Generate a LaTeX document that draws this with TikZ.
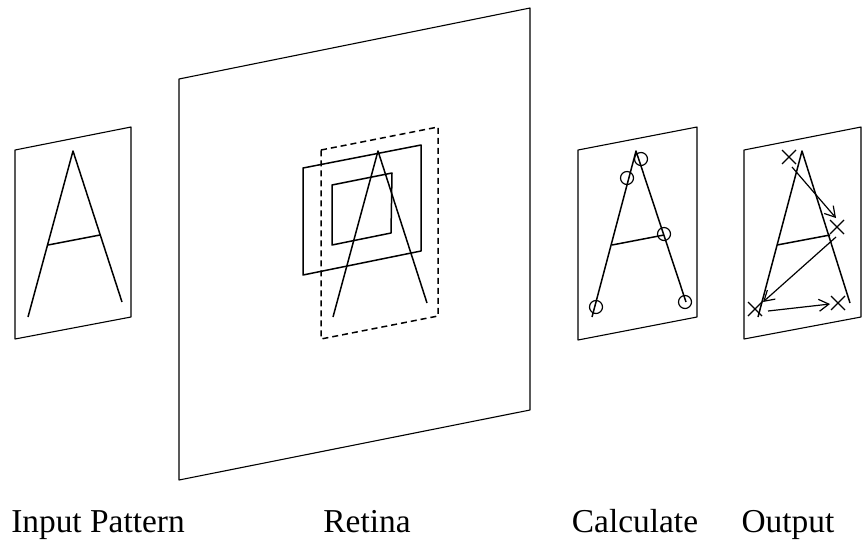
\documentclass[tikz,border=0pt]{standalone}
\usepackage{fontspec}
\setmainfont{Liberation Serif}
\usetikzlibrary{arrows.meta}

\begin{document}
\begin{tikzpicture}[x=0.5pt, y=-0.5pt, line join=round,
    every node/.style={font=\fontsize{16.7}{19}\selectfont, inner sep=0pt},
    panel/.style={draw=black, line width=0.55pt},
    letter/.style={draw=black, line width=0.75pt},
    ring/.style={draw=black, line width=0.6pt},
    mover/.style={draw=black, line width=0.6pt, -{Straight Barb[length=5pt, width=6pt]}}]
  \useasboundingbox (0,0) rectangle (866,548);

  % Input pattern
  \draw[panel] (15,150) -- (131,127) -- (131,317) -- (15,339) -- cycle;
  \draw[letter] (28,317) -- (73,151) -- (122,302);
  \draw[letter] (48,245) -- (100,235);

  % Retina
  \draw[panel] (179,79) -- (530,8) -- (530,410) -- (179,480) -- cycle;
  \draw[panel, dashed, dash pattern=on 3pt off 2pt, line width=0.75pt]
    (321,150) -- (438,127) -- (438,316) -- (321,339) -- cycle;
  \draw[panel, line width=0.75pt] (303,168) -- (421,145) -- (421,251) -- (303,275) -- cycle;
  \draw[panel, line width=0.75pt] (332,185) -- (392,173) -- (391,233) -- (332,245) -- cycle;
  \draw[letter] (333,317) -- (378,151) -- (427,303);

  % Calculate
  \draw[panel] (578,150) -- (697,127) -- (697,317) -- (578,340) -- cycle;
  \draw[letter] (592,317) -- (636,151) -- (686,302);
  \draw[letter] (612,245) -- (664,235);
  \foreach \cx/\cy in {641/159, 627/178, 664/234, 596/307, 685/302}
    \draw[ring] (\cx,\cy) circle (6.5);

  % Output
  \draw[panel] (744,150) -- (861,127) -- (861,317) -- (744,339) -- cycle;
  \draw[letter] (758,317) -- (802,151) -- (850,303);
  \draw[letter] (777,245) -- (830,235);
  \foreach \cx/\cy in {789/157, 837/227, 755/309, 838/303}
    \draw[ring] (\cx-7,\cy-7) -- (\cx+7,\cy+7) (\cx-7,\cy+7) -- (\cx+7,\cy-7);
  \coordinate (m1s) at (792,167);
  \coordinate (m1e) at (836,218);
  \coordinate (m2s) at (836,237);
  \coordinate (m2e) at (763,302);
  \coordinate (m3s) at (768,311);
  \coordinate (m3e) at (830,304);
  \draw[mover] (m1s) -- (m1e);
  \draw[mover] (m2s) -- (m2e);
  \draw[mover] (m3s) -- (m3e);

  % Labels
  \node[anchor=base] (lblinput) at (98,532) {Input Pattern};
  \node[anchor=base] (lblretina) at (367,532) {Retina};
  \node[anchor=base] (lblcalc) at (635,532) {Calculate};
  \node[anchor=base] (lbloutput) at (788,532) {Output};
\end{tikzpicture}
\end{document}
